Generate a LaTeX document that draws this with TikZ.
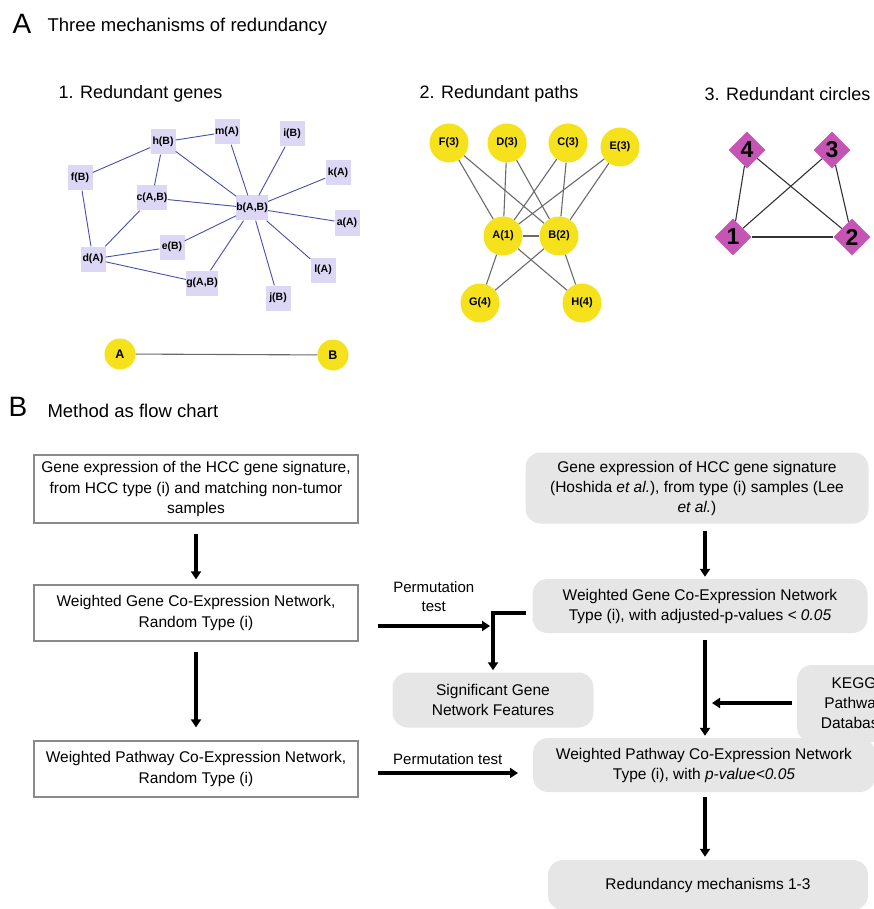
\documentclass[tikz,border=0pt]{standalone}
\usepackage{fontspec}
\setmainfont{Liberation Sans}
\usetikzlibrary{arrows.meta,shapes.geometric}

\definecolor{genefill}{HTML}{DCD7F4}
\definecolor{geneedge}{HTML}{4650A8}
\definecolor{pathfill}{HTML}{F5E11C}
\definecolor{pathedge}{HTML}{6A6A6A}
\definecolor{circfill}{HTML}{C654B4}
\definecolor{flowfill}{HTML}{E6E6E6}
\definecolor{flowedge}{HTML}{8A8A8A}

\begin{document}
\begin{tikzpicture}
  [x=1pt,y=-1pt,
   gene/.style={rectangle,fill=genefill,minimum size=25pt,inner sep=0pt,
     font=\bfseries\fontsize{10.5}{12}\selectfont},
   genelink/.style={geneedge,line width=0.9pt},
   ball/.style={circle,fill=pathfill,minimum size=39pt,inner sep=0pt,
     font=\bfseries\fontsize{11}{12}\selectfont},
   balllink/.style={pathedge,line width=1.1pt},
   gem/.style={diamond,aspect=1,fill=circfill,minimum size=37pt,inner sep=0pt,
     font=\bfseries\fontsize{23}{24}\selectfont},
   leftbox/.style={rectangle,draw=flowedge,line width=1.2pt,minimum width=324pt,
     align=center,font=\fontsize{15.5}{20.5}\selectfont},
   rightbox/.style={rectangle,fill=flowfill,rounded corners=15pt,align=center,
     font=\fontsize{15.5}{20}\selectfont},
   flowarrow/.style={line width=3.2pt,-{Triangle[length=8pt,width=10pt]}},
   head/.style={anchor=west,font=\fontsize{18.5}{21}\selectfont},
   sub/.style={anchor=west,font=\fontsize{18}{21}\selectfont},
   letter/.style={font=\fontsize{28}{30}\selectfont}]
  \useasboundingbox (0,0) rectangle (873,909);

  % panel A
  \node[letter] (la) at (22,24) {A};
  \node[head] (ta) at (44,27) {Three mechanisms of redundancy};
  \node[sub] (t1) at (55,94) {1. Redundant genes};
  \node[sub] (t2) at (416,94) {2. Redundant paths};
  \node[sub] (t3) at (701,94) {3. Redundant circles};

  % redundant genes
  \node[gene] (h) at (163,142) {h(B)};
  \node[gene] (m) at (227,132) {m(A)};
  \node[gene] (i) at (292,134) {i(B)};
  \node[gene] (f) at (80,178)  {f(B)};
  \node[gene] (k) at (338,173) {k(A)};
  \node[gene] (c) at (152,198) {c(A,B)};
  \node[gene] (b) at (252,208) {b(A,B)};
  \node[gene] (a) at (347,223) {a(A)};
  \node[gene] (e) at (172,247) {e(B)};
  \node[gene] (d) at (93,259)  {d(A)};
  \node[gene] (l) at (323,270) {l(A)};
  \node[gene] (g) at (202,283) {g(A,B)};
  \node[gene] (j) at (278,298) {j(B)};

  \foreach \from/\to in {h/m,h/f,h/c,h/b,m/b,i/b,k/b,c/b,a/b,f/d,c/d,d/e,d/g,e/b,g/b,j/b,l/b}
    \draw[genelink] (\from) -- (\to);

  \node[ball,minimum size=31pt,font=\bfseries\fontsize{12.5}{14}\selectfont] (pa) at (120,354) {A};
  \node[ball,minimum size=31pt,font=\bfseries\fontsize{12.5}{14}\selectfont] (pb) at (333,355) {B};
  \draw[balllink] (pa) -- (pb);

  % redundant paths
  \node[ball] (F) at (449,143) {F(3)};
  \node[ball] (D) at (507,143) {D(3)};
  \node[ball] (C) at (568,143) {C(3)};
  \node[ball] (E) at (620,147) {E(3)};
  \node[ball] (A) at (503,236) {A(1)};
  \node[ball] (B) at (559,236) {B(2)};
  \node[ball] (G) at (480,303) {G(4)};
  \node[ball] (H) at (582,303) {H(4)};

  \foreach \from/\to in {F/A,F/B,D/A,D/B,C/A,C/B,E/A,E/B,A/B,A/G,A/H,B/G,B/H}
    \draw[balllink] (\from) -- (\to);

  % redundant circles
  \node[gem] (n4) at (747,150) {4};
  \node[gem] (n3) at (832,150) {3};
  \node[gem] (n1) at (733,237) {1};
  \node[gem] (n2) at (852,237) {2};

  \foreach \from/\to in {n4/n1,n4/n2,n3/n1,n3/n2,n1/n2}
    \draw[balllink,black!80] (\from) -- (\to);

  % panel B
  \node[letter] (lb) at (18,407) {B};
  \node[head] (tb) at (44,411) {Method as flow chart};

  \node[leftbox,minimum height=68pt] (gl1) at (196,489)
    {Gene expression of the HCC gene signature,\\from HCC type (i) and matching non-tumor\\samples};
  \node[leftbox,minimum height=56pt] (gl2) at (196,613)
    {Weighted Gene Co-Expression Network,\\Random Type (i)};
  \node[leftbox,minimum height=56pt] (gl3) at (196,769)
    {Weighted Pathway Co-Expression Network,\\Random Type (i)};

  \node[rightbox,minimum width=343pt,minimum height=71pt] (r1) at (697,488)
    {Gene expression of HCC gene signature\\(Hoshida \textit{et al.}), from type (i) samples (Lee\\\textit{et al.})};
  \node[rightbox,minimum width=335pt,minimum height=54pt] (r2) at (700,606)
    {Weighted Gene Co-Expression Network\\Type (i), with adjusted-p-values \textit{< 0.05}};
  \node[rightbox,minimum width=201pt,minimum height=55pt] (sig) at (493,700)
    {Significant Gene\\Network Features};
  \node[rightbox,minimum width=114pt,minimum height=77pt] (kegg) at (854,703.5)
    {KEGG\\Pathway\\Database};
  \node[rightbox,minimum width=342pt,minimum height=54pt] (r3) at (704,765)
    {Weighted Pathway Co-Expression Network\\Type (i), with \textit{p-value<0.05}};
  \node[rightbox,minimum width=320pt,minimum height=50pt] (r4) at (708,885)
    {Redundancy mechanisms 1-3};

  \coordinate (perm1) at (490,626);
  \coordinate (perm2) at (518,773);
  \coordinate (keggin) at (712,703);

  \draw[flowarrow,shorten <=10pt,shorten >=5pt] (gl1) -- (gl2);
  \draw[flowarrow,shorten <=10pt,shorten >=13pt] (gl2) -- (gl3);
  \draw[flowarrow,shorten <=7pt,shorten >=2pt] (r1.south -| 705,0) -- (r2.north -| 705,0);
  \draw[flowarrow,shorten <=7pt,shorten >=2pt] (r2.south -| 705,0) -- (r3.north -| 705,0);
  \draw[flowarrow,shorten <=5pt,shorten >=3pt] (r3.south -| 705,0) -- (r4.north -| 705,0);
  \draw[flowarrow,shorten <=5pt] (kegg.west |- keggin) -- (keggin);
  \draw[flowarrow] ([xshift=19pt,yshift=-13pt]gl2.east) -- (perm1)
    node[midway,above=9pt,align=center,font=\fontsize{15}{19}\selectfont] {Permutation\\test};
  \draw[flowarrow,shorten >=2pt] ([xshift=-6pt,yshift=-7pt]r2.west) -| (sig.north);
  \draw[flowarrow] ([xshift=19pt,yshift=-4pt]gl3.east) -- (perm2)
    node[midway,above=3pt,font=\fontsize{15}{19}\selectfont] {Permutation test};
\end{tikzpicture}
\end{document}
